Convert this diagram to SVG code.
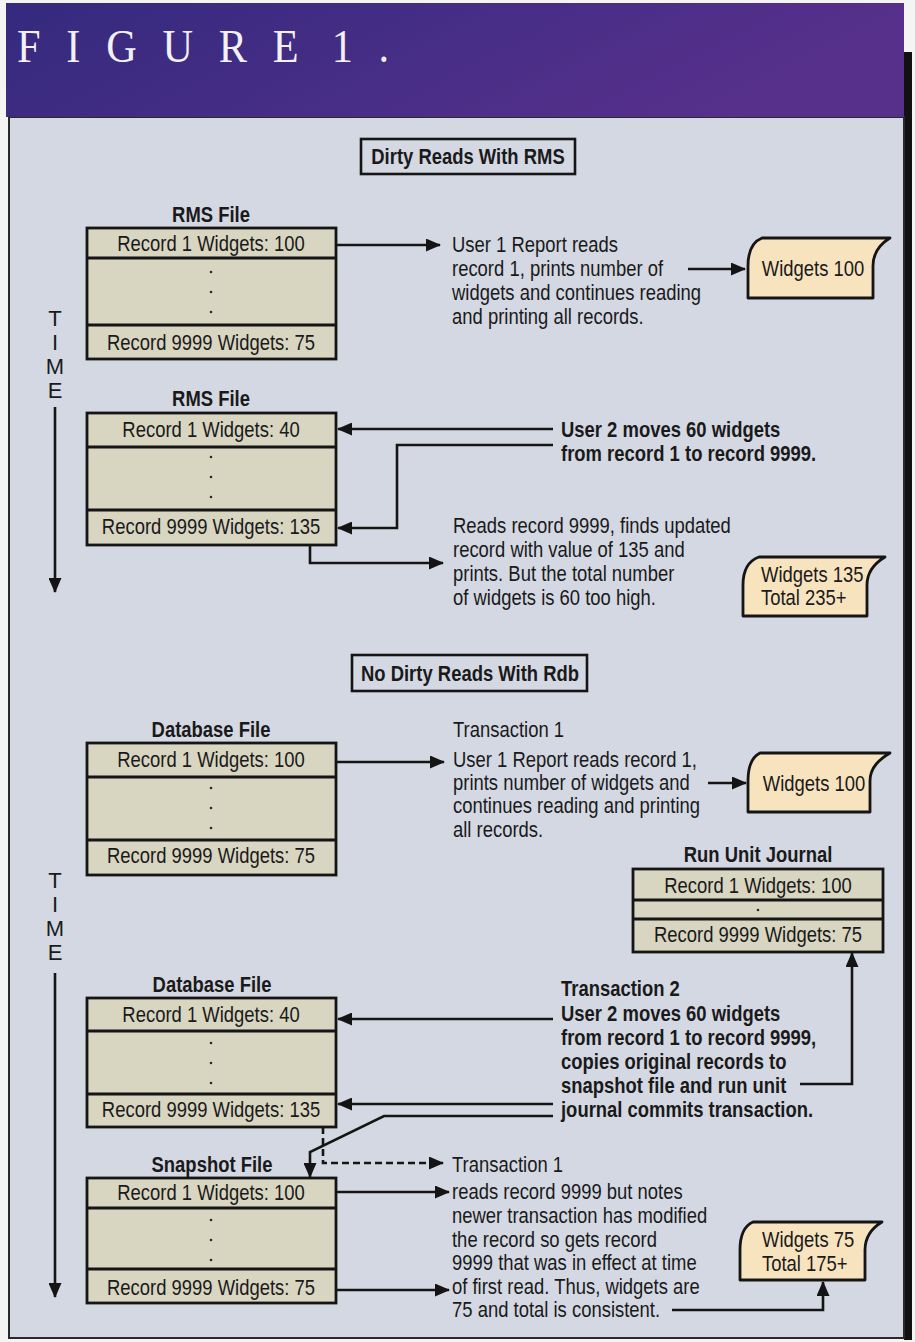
<svg xmlns="http://www.w3.org/2000/svg" width="915" height="1342" viewBox="0 0 915 1342">
  <defs>
    <linearGradient id="band" x1="0" y1="0" x2="1" y2="0.25">
      <stop offset="0" stop-color="#342a7e"/>
      <stop offset="1" stop-color="#57308c"/>
    </linearGradient>
    <marker id="ah" markerUnits="userSpaceOnUse" viewBox="0 0 15 13" markerWidth="15" markerHeight="13" refX="14" refY="6.5" orient="auto">
      <path d="M0,0 L15,6.5 L0,13 Z" fill="#141414"/>
    </marker>
  </defs>
  <style>
    /* condensed sans: Liberation Sans squeezed horizontally through each text's matrix */
    .t { font-family: "Liberation Sans", Arial, sans-serif; font-size: 22.5px; fill: #1a1a1a; }
    .b { font-weight: bold; }
    .c { text-anchor: middle; }
    .rec { fill: #d8d5c1; stroke: #151515; stroke-width: 2.8; }
    .div { stroke: #151515; stroke-width: 2.8; }
    .hdr { fill: none; stroke: #151515; stroke-width: 2.6; }
    .out { fill: #f8e3bf; stroke: #151515; stroke-width: 2.8; stroke-linejoin: round; }
    .ln { fill: none; stroke: #151515; stroke-width: 2.6; }
    .arr { marker-end: url(#ah); }
    .dash { stroke-dasharray: 7 4; }
    .dot { fill: #2a2a2a; }
    .time { font-family: "Liberation Sans", Arial, sans-serif; font-size: 22px; text-anchor: middle; fill: #1a1a1a; }
  </style>

  <!-- page frame -->
  <rect x="0" y="0" width="915" height="1342" fill="#f4f4f2"/>
  <rect x="904" y="52" width="8" height="1288" fill="#111"/>
  <rect x="9" y="117" width="895" height="1221" fill="#d4d8e2" stroke="#2a2a2a" stroke-width="2"/>
  <g id="banner">
    <rect x="6" y="3" width="898" height="114" fill="url(#band)"/>
    <text x="17" y="62" font-family="Liberation Serif, serif" font-size="46" letter-spacing="28" word-spacing="-31.5" fill="#f4f0f8" transform="translate(17 0) scale(0.92 1) translate(-17 0)">FIGURE 1.</text>
  </g>

  <!-- ===== Dirty reads with RMS ===== -->
  <g id="title-rms">
    <rect class="hdr" x="361" y="139" width="214" height="35"/>
    <text class="t b c" transform="matrix(.82 0 0 1 468 164)">Dirty Reads With RMS</text>
  </g>

  <g id="rms-file-1">
    <text class="t b c" transform="matrix(.82 0 0 1 211 222)">RMS File</text>
    <rect class="rec" x="87" y="228" width="249" height="131"/>
    <line class="div" x1="87" y1="258" x2="336" y2="258"/>
    <line class="div" x1="87" y1="325" x2="336" y2="325"/>
    <text class="t c" transform="matrix(.82 0 0 1 211 251)">Record 1 Widgets: 100</text>
    <circle class="dot" cx="211" cy="272" r="1.3"/>
    <circle class="dot" cx="211" cy="292" r="1.3"/>
    <circle class="dot" cx="211" cy="312" r="1.3"/>
    <text class="t c" transform="matrix(.82 0 0 1 211 350)">Record 9999 Widgets: 75</text>
  </g>

  <g id="user1-report">
    <text class="t" transform="matrix(.82 0 0 1 452 252)">User 1 Report reads</text>
    <text class="t" transform="matrix(.82 0 0 1 452 276)">record 1, prints number of</text>
    <text class="t" transform="matrix(.82 0 0 1 452 300)">widgets and continues reading</text>
    <text class="t" transform="matrix(.82 0 0 1 452 324)">and printing all records.</text>
  </g>

  <g id="print-1">
    <path class="out" d="M762,238 L890,238 C880,244 873,252 873,266 L873,298 L748,298 L748,266 C748,252 752,242 762,238 Z"/>
    <text class="t c" transform="matrix(.82 0 0 1 813 276)">Widgets 100</text>
  </g>

  <g id="time-1">
    <text class="time" x="55" y="326">T</text>
    <text class="time" x="55" y="350">I</text>
    <text class="time" x="55" y="374">M</text>
    <text class="time" x="55" y="398">E</text>
  </g>

  <g id="rms-file-2">
    <text class="t b c" transform="matrix(.82 0 0 1 211 406)">RMS File</text>
    <rect class="rec" x="87" y="413" width="249" height="132"/>
    <line class="div" x1="87" y1="447" x2="336" y2="447"/>
    <line class="div" x1="87" y1="510" x2="336" y2="510"/>
    <text class="t c" transform="matrix(.82 0 0 1 211 437)">Record 1 Widgets: 40</text>
    <circle class="dot" cx="211" cy="457" r="1.3"/>
    <circle class="dot" cx="211" cy="477" r="1.3"/>
    <circle class="dot" cx="211" cy="497" r="1.3"/>
    <text class="t c" transform="matrix(.82 0 0 1 211 534)">Record 9999 Widgets: 135</text>
  </g>

  <g id="user2-move">
    <text class="t b" transform="matrix(.82 0 0 1 561 437)">User 2 moves 60 widgets</text>
    <text class="t b" transform="matrix(.82 0 0 1 561 461)">from record 1 to record 9999.</text>
  </g>

  <g id="dirty-read">
    <text class="t" transform="matrix(.82 0 0 1 453 533)">Reads record 9999, finds updated</text>
    <text class="t" transform="matrix(.82 0 0 1 453 557)">record with value of 135 and</text>
    <text class="t" transform="matrix(.82 0 0 1 453 581)">prints. But the total number</text>
    <text class="t" transform="matrix(.82 0 0 1 453 605)">of widgets is 60 too high.</text>
  </g>

  <g id="print-2">
    <path class="out" d="M759,557 L885,557 C875,563 867,571 867,585 L867,616 L743,616 L743,585 C743,571 748,561 759,557 Z"/>
    <text class="t" transform="matrix(.82 0 0 1 761 582)">Widgets 135</text>
    <text class="t" transform="matrix(.82 0 0 1 761 605)">Total 235+</text>
  </g>

  <!-- ===== No dirty reads with Rdb ===== -->
  <g id="title-rdb">
    <rect class="hdr" x="352" y="655" width="235" height="36"/>
    <text class="t b c" transform="matrix(.82 0 0 1 470 681)">No Dirty Reads With Rdb</text>
  </g>

  <g id="db-file-1">
    <text class="t b c" transform="matrix(.82 0 0 1 211 737)">Database File</text>
    <rect class="rec" x="87" y="743" width="249" height="132"/>
    <line class="div" x1="87" y1="777" x2="336" y2="777"/>
    <line class="div" x1="87" y1="840" x2="336" y2="840"/>
    <text class="t c" transform="matrix(.82 0 0 1 211 767)">Record 1 Widgets: 100</text>
    <circle class="dot" cx="211" cy="788" r="1.3"/>
    <circle class="dot" cx="211" cy="808" r="1.3"/>
    <circle class="dot" cx="211" cy="828" r="1.3"/>
    <text class="t c" transform="matrix(.82 0 0 1 211 863)">Record 9999 Widgets: 75</text>
  </g>

  <g id="txn1-report">
    <text class="t" transform="matrix(.82 0 0 1 453 737)">Transaction 1</text>
    <text class="t" transform="matrix(.82 0 0 1 453 767)">User 1 Report reads record 1,</text>
    <text class="t" transform="matrix(.82 0 0 1 453 790)">prints number of widgets and</text>
    <text class="t" transform="matrix(.82 0 0 1 453 813)">continues reading and printing</text>
    <text class="t" transform="matrix(.82 0 0 1 453 837)">all records.</text>
  </g>

  <g id="print-3">
    <path class="out" d="M760,753 L890,753 C880,759 870,767 870,781 L870,812 L748,812 L748,781 C748,767 752,757 760,753 Z"/>
    <text class="t c" transform="matrix(.82 0 0 1 814 791)">Widgets 100</text>
  </g>

  <g id="run-unit-journal">
    <text class="t b c" transform="matrix(.82 0 0 1 758 862)">Run Unit Journal</text>
    <rect class="rec" x="633" y="869" width="250" height="83"/>
    <line class="div" x1="633" y1="900" x2="883" y2="900"/>
    <line class="div" x1="633" y1="919" x2="883" y2="919"/>
    <text class="t c" transform="matrix(.82 0 0 1 758 893)">Record 1 Widgets: 100</text>
    <circle class="dot" cx="758" cy="910" r="1.3"/>
    <text class="t c" transform="matrix(.82 0 0 1 758 942)">Record 9999 Widgets: 75</text>
  </g>

  <g id="time-2">
    <text class="time" x="55" y="888">T</text>
    <text class="time" x="55" y="912">I</text>
    <text class="time" x="55" y="936">M</text>
    <text class="time" x="55" y="960">E</text>
  </g>

  <g id="db-file-2">
    <text class="t b c" transform="matrix(.82 0 0 1 212 992)">Database File</text>
    <rect class="rec" x="87" y="998" width="249" height="129"/>
    <line class="div" x1="87" y1="1031" x2="336" y2="1031"/>
    <line class="div" x1="87" y1="1094" x2="336" y2="1094"/>
    <text class="t c" transform="matrix(.82 0 0 1 211 1022)">Record 1 Widgets: 40</text>
    <circle class="dot" cx="211" cy="1043" r="1.3"/>
    <circle class="dot" cx="211" cy="1063" r="1.3"/>
    <circle class="dot" cx="211" cy="1083" r="1.3"/>
    <text class="t c" transform="matrix(.82 0 0 1 211 1117)">Record 9999 Widgets: 135</text>
  </g>

  <g id="txn2">
    <text class="t b" transform="matrix(.82 0 0 1 561 996)">Transaction 2</text>
    <text class="t b" transform="matrix(.82 0 0 1 561 1021)">User 2 moves 60 widgets</text>
    <text class="t b" transform="matrix(.82 0 0 1 561 1045)">from record 1 to record 9999,</text>
    <text class="t b" transform="matrix(.82 0 0 1 561 1069)">copies original records to</text>
    <text class="t b" transform="matrix(.82 0 0 1 561 1093)">snapshot file and run unit</text>
    <text class="t b" transform="matrix(.82 0 0 1 561 1117)">journal commits transaction.</text>
  </g>

  <g id="snapshot-file">
    <text class="t b c" transform="matrix(.82 0 0 1 212 1172)">Snapshot File</text>
    <rect class="rec" x="87" y="1178" width="249" height="125"/>
    <line class="div" x1="87" y1="1208" x2="336" y2="1208"/>
    <line class="div" x1="87" y1="1269" x2="336" y2="1269"/>
    <text class="t c" transform="matrix(.82 0 0 1 211 1200)">Record 1 Widgets: 100</text>
    <circle class="dot" cx="211" cy="1220" r="1.3"/>
    <circle class="dot" cx="211" cy="1240" r="1.3"/>
    <circle class="dot" cx="211" cy="1260" r="1.3"/>
    <text class="t c" transform="matrix(.82 0 0 1 211 1295)">Record 9999 Widgets: 75</text>
  </g>

  <g id="txn1-consistent">
    <text class="t" transform="matrix(.82 0 0 1 452 1172)">Transaction 1</text>
    <text class="t" transform="matrix(.82 0 0 1 452 1199)">reads record 9999 but notes</text>
    <text class="t" transform="matrix(.82 0 0 1 452 1223)">newer transaction has modified</text>
    <text class="t" transform="matrix(.82 0 0 1 452 1247)">the record so gets record</text>
    <text class="t" transform="matrix(.82 0 0 1 452 1270)">9999 that was in effect at time</text>
    <text class="t" transform="matrix(.82 0 0 1 452 1294)">of first read. Thus, widgets are</text>
    <text class="t" transform="matrix(.82 0 0 1 452 1317)">75 and total is consistent.</text>
  </g>

  <g id="print-4">
    <path class="out" d="M753,1222 L882,1222 C872,1228 865,1236 865,1250 L865,1280 L740,1280 L740,1250 C740,1236 744,1226 753,1222 Z"/>
    <text class="t" transform="matrix(.82 0 0 1 762 1247)">Widgets 75</text>
    <text class="t" transform="matrix(.82 0 0 1 762 1271)">Total 175+</text>
  </g>

  <!-- connectors -->
  <g id="connectors">
    <!-- time axes -->
    <line class="ln arr" x1="55" y1="407" x2="55" y2="592"/>
    <line class="ln arr" x1="55" y1="973" x2="55" y2="1297"/>
    <!-- RMS section -->
    <line class="ln arr" x1="336" y1="245" x2="440" y2="245"/>
    <line class="ln arr" x1="688" y1="269" x2="745" y2="269"/>
    <line class="ln arr" x1="553" y1="429" x2="338" y2="429"/>
    <polyline class="ln arr" points="553,445 397,445 397,528 338,528"/>
    <polyline class="ln arr" points="310,545 310,563 443,563"/>
    <!-- Rdb section -->
    <line class="ln arr" x1="336" y1="762" x2="444" y2="762"/>
    <line class="ln arr" x1="708" y1="783" x2="746" y2="783"/>
    <polyline class="ln arr" points="800,1084 852,1084 852,953"/>
    <line class="ln arr" x1="553" y1="1019" x2="338" y2="1019"/>
    <line class="ln arr" x1="553" y1="1104" x2="338" y2="1104"/>
    <polyline class="ln arr" points="553,1116 384,1116 310,1152 310,1177"/>
    <polyline class="ln arr dash" points="323,1127 323,1163 443,1163"/>
    <line class="ln arr" x1="336" y1="1192" x2="449" y2="1192"/>
    <line class="ln arr" x1="336" y1="1290" x2="449" y2="1290"/>
    <polyline class="ln arr" points="672,1310 823,1310 823,1282"/>
  </g>
</svg>
